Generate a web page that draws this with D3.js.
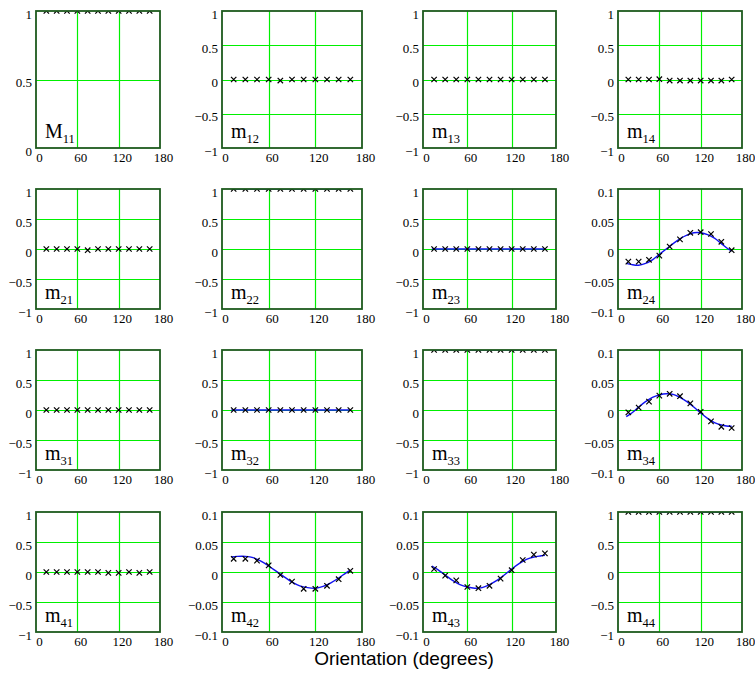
<!DOCTYPE html>
<html>
<head>
<meta charset="utf-8">
<script src="https://cdn.jsdelivr.net/npm/d3@7"></script>
<style>
  html, body { margin: 0; padding: 0; background: #ffffff; }
  svg { display: block; }
</style>
</head>
<body>
<svg id="chart" width="755" height="677"></svg>
<script>
// Measured orientations (degrees) and the angles at which the fitted curve is sampled
const angles = [15, 30, 45, 60, 75, 90, 105, 120, 135, 150, 165];
const fitAngles = [12, 20, 30, 40, 50, 60, 70, 80, 90, 100, 110, 120, 130, 140, 150, 160, 165];
const xTicks = [0, 60, 120, 180];

// Normalised Mueller matrix elements, measured
const m11 = [1, 1, 1, 1, 1, 1, 1, 1, 1, 1, 1];
const m12 = [0, 0, 0, 0, -0.015, 0, 0, 0, 0, 0, 0];
const m13 = [0, 0, 0, 0, 0, 0, 0, 0, 0, 0, 0];
const m14 = [0, 0, 0, 0.005, -0.015, -0.015, -0.015, -0.015, -0.015, -0.015, 0];
const m21 = [0, 0, 0, 0, -0.02, 0, 0, 0, 0, 0, 0];
const m22 = [1, 1, 1, 1, 1, 1, 1, 1, 1, 1, 1];
const m23 = [0, 0, 0, 0, 0, 0, 0, 0, 0, 0, 0];
const m24 = [-0.021, -0.021, -0.018, -0.011, 0.004, 0.016, 0.027, 0.028, 0.025, 0.012, -0.002];
const m31 = [0, 0, 0, 0, 0, 0, 0, 0, 0, 0, 0];
const m32 = [0, 0, 0, 0, 0, 0, 0, 0, 0, 0, 0];
const m33 = [1, 1, 1, 1, 1, 1, 1, 1, 1, 1, 1];
const m34 = [-0.004, 0.004, 0.014, 0.024, 0.027, 0.023, 0.011, -0.003, -0.019, -0.028, -0.030];
const m41 = [0, 0, 0, 0, 0, 0, -0.015, -0.015, 0, -0.015, 0];
const m42 = [0.022, 0.022, 0.019, 0.011, -0.005, -0.016, -0.028, -0.028, -0.023, -0.012, 0.002];
const m43 = [0.005, -0.006, -0.014, -0.025, -0.027, -0.023, -0.011, 0.003, 0.020, 0.029, 0.031];
const m44 = [1, 1, 1, 1, 1, 1, 1, 1, 1, 1, 1];

// Model curves
const ones17 = [1, 1, 1, 1, 1, 1, 1, 1, 1, 1, 1, 1, 1, 1, 1, 1, 1];
const zeros17 = [0, 0, 0, 0, 0, 0, 0, 0, 0, 0, 0, 0, 0, 0, 0, 0, 0];
const m22Fit = ones17;
const m23Fit = zeros17;
const m24Fit = [-0.024, -0.026, -0.027, -0.024, -0.018, -0.009, 0, 0.009, 0.017, 0.023, 0.027, 0.027, 0.024, 0.018, 0.009, 0.000, -0.003];
const m32Fit = zeros17;
const m33Fit = ones17;
const m34Fit = [-0.011, -0.005, 0.005, 0.014, 0.021, 0.025, 0.027, 0.026, 0.021, 0.014, 0.005, -0.005, -0.014, -0.021, -0.025, -0.027, -0.027];
const m42Fit = [0.025, 0.026, 0.026, 0.024, 0.018, 0.010, 0.001, -0.008, -0.017, -0.023, -0.026, -0.027, -0.024, -0.018, -0.010, -0.001, 0.003];
const m43Fit = [0.010, 0.004, -0.005, -0.014, -0.021, -0.025, -0.027, -0.026, -0.021, -0.014, -0.005, 0.005, 0.014, 0.021, 0.025, 0.027, 0.028];
const m44Fit = ones17;

// Y-axis ranges and ticks
const unitTicks = [0, 0.5, 1];
const wideTicks = [-1, -0.5, 0, 0.5, 1];
const narrowTicks = [-0.1, -0.05, 0, 0.05, 0.1];

// Panel grid geometry
const colLeft = [36, 222, 423, 618];
const colRight = [160, 362, 556, 742];
const rowTop = [11, 189, 350, 512];
const rowBottom = [148, 309, 470, 632];

const panels = [
  { letter: "M", sub: "11", row: 0, col: 0, values: m11, fit: null, ticks: unitTicks },
  { letter: "m", sub: "12", row: 0, col: 1, values: m12, fit: null, ticks: wideTicks },
  { letter: "m", sub: "13", row: 0, col: 2, values: m13, fit: null, ticks: wideTicks },
  { letter: "m", sub: "14", row: 0, col: 3, values: m14, fit: null, ticks: wideTicks },
  { letter: "m", sub: "21", row: 1, col: 0, values: m21, fit: null, ticks: wideTicks },
  { letter: "m", sub: "22", row: 1, col: 1, values: m22, fit: m22Fit, ticks: wideTicks },
  { letter: "m", sub: "23", row: 1, col: 2, values: m23, fit: m23Fit, ticks: wideTicks },
  { letter: "m", sub: "24", row: 1, col: 3, values: m24, fit: m24Fit, ticks: narrowTicks },
  { letter: "m", sub: "31", row: 2, col: 0, values: m31, fit: null, ticks: wideTicks },
  { letter: "m", sub: "32", row: 2, col: 1, values: m32, fit: m32Fit, ticks: wideTicks },
  { letter: "m", sub: "33", row: 2, col: 2, values: m33, fit: m33Fit, ticks: wideTicks },
  { letter: "m", sub: "34", row: 2, col: 3, values: m34, fit: m34Fit, ticks: narrowTicks },
  { letter: "m", sub: "41", row: 3, col: 0, values: m41, fit: null, ticks: wideTicks },
  { letter: "m", sub: "42", row: 3, col: 1, values: m42, fit: m42Fit, ticks: narrowTicks },
  { letter: "m", sub: "43", row: 3, col: 2, values: m43, fit: m43Fit, ticks: narrowTicks },
  { letter: "m", sub: "44", row: 3, col: 3, values: m44, fit: m44Fit, ticks: wideTicks }
];

const SERIF = "'Liberation Serif', 'Times New Roman', Times, serif";
const SANS = "'Liberation Sans', Arial, Helvetica, sans-serif";

const svg = d3.select("#chart");
const defs = svg.append("defs");

function fmt(v) {
  const s = String(Math.abs(v));
  return (v < 0 ? "\u2212" : "") + s;
}

panels.forEach((p, i) => {
  const x0 = colLeft[p.col], x1 = colRight[p.col];
  const y0 = rowTop[p.row], y1 = rowBottom[p.row];
  const w = x1 - x0, h = y1 - y0;

  const x = d3.scaleLinear().domain([0, 180]).range([0, w]);
  const y = d3.scaleLinear().domain(d3.extent(p.ticks)).range([h, 0]);

  const g = svg.append("g").attr("transform", `translate(${x0},${y0})`);

  defs.append("clipPath").attr("id", "clip" + i)
    .append("rect").attr("x", 0).attr("y", 0).attr("width", w).attr("height", h);

  // grid lines
  const grid = g.append("g");
  grid.selectAll("line.v").data(xTicks.slice(1, -1)).join("line")
    .attr("x1", d => Math.round(x(d)) + 0.5).attr("x2", d => Math.round(x(d)) + 0.5)
    .attr("y1", 0).attr("y2", h)
    .attr("stroke", "#00f000").attr("stroke-width", 1.2);
  grid.selectAll("line.h").data(p.ticks.slice(1, -1)).join("line")
    .attr("x1", 0).attr("x2", w)
    .attr("y1", d => Math.round(y(d)) + 0.5).attr("y2", d => Math.round(y(d)) + 0.5)
    .attr("stroke", "#00f000").attr("stroke-width", 1.2);

  // y axis labels
  const yAxis = d3.axisLeft(y).tickValues(p.ticks).tickSize(0).tickPadding(4).tickFormat(fmt);
  const ya = g.append("g").call(yAxis);
  ya.select(".domain").remove();
  ya.selectAll("text")
    .attr("dy", "0.55em")
    .style("font-family", SERIF).style("font-size", "13px").style("fill", "#000");

  // x axis labels
  const xAxis = d3.axisBottom(x).tickValues(xTicks).tickSize(0).tickPadding(5).tickFormat(d => String(d));
  const xa = g.append("g").attr("transform", `translate(3,${h})`).call(xAxis);
  xa.select(".domain").remove();
  xa.selectAll("text")
    .style("font-family", SERIF).style("font-size", "13px").style("fill", "#000");

  const marks = g.append("g").attr("clip-path", `url(#clip${i})`);

  // fitted curve
  if (p.fit) {
    const line = d3.line()
      .x((d, k) => x(fitAngles[k]))
      .y(d => y(d))
      .curve(d3.curveCatmullRom.alpha(0.5));
    marks.append("path").datum(p.fit)
      .attr("d", line)
      .attr("fill", "none")
      .attr("stroke", "#1010f0")
      .attr("stroke-width", 1.4);
  }

  // measured points as crosses
  const r = 2.7;
  marks.selectAll("path.cross").data(p.values).join("path")
    .attr("class", "cross")
    .attr("d", (d, k) => {
      const cx = x(angles[k]), cy = y(d);
      return `M${cx - r},${cy - r}L${cx + r},${cy + r}M${cx - r},${cy + r}L${cx + r},${cy - r}`;
    })
    .attr("stroke", "#000")
    .attr("stroke-width", 1.2)
    .attr("fill", "none");

  // frame
  g.append("rect").attr("x", 0).attr("y", 0).attr("width", w).attr("height", h)
    .attr("fill", "none").attr("stroke", "#1d5a1d").attr("stroke-width", 1.8);

  // element name
  const t = g.append("text")
    .attr("x", 9).attr("y", h - 10)
    .style("font-family", SERIF).style("font-size", "20px").style("fill", "#000");
  t.append("tspan").text(p.letter);
  t.append("tspan").attr("dy", 5).style("font-size", "12.5px").text(p.sub);
});

svg.append("text")
  .attr("x", 404).attr("y", 665).attr("text-anchor", "middle")
  .style("font-family", SANS).style("font-size", "19px").style("fill", "#000")
  .text("Orientation (degrees)");
</script>
</body>
</html>
